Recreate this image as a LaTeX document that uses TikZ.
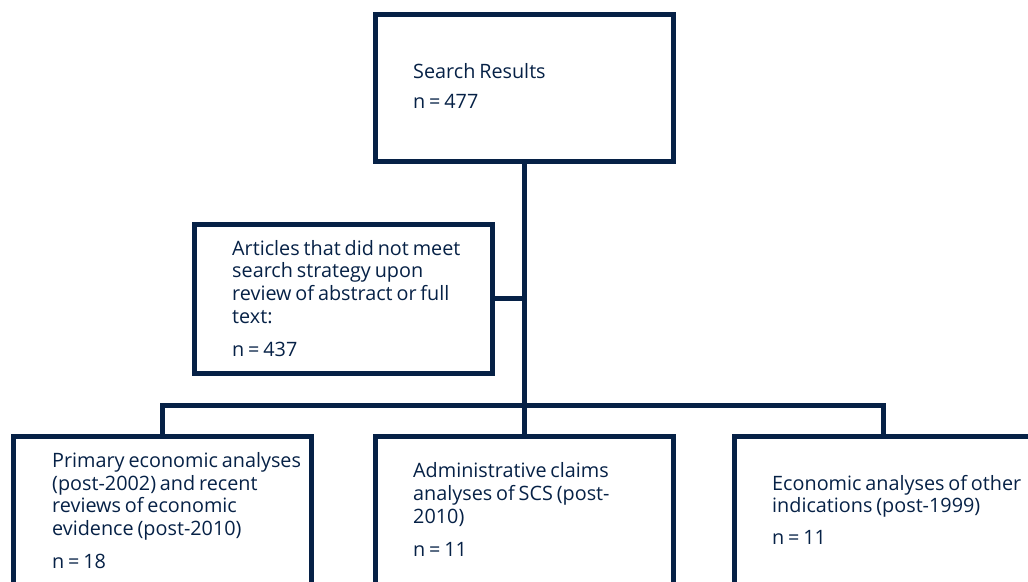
\documentclass[tikz,border=0pt]{standalone}
\usepackage{fontspec}
\setmainfont{Open Sans}[WordSpace=0.75]
\definecolor{navy}{RGB}{6,33,70}
\begin{document}
\begin{tikzpicture}[x=1pt,y=-1pt,
  box/.style={draw=navy,line width=5pt,minimum width=298pt,inner sep=0pt,outer sep=0pt},
  conn/.style={draw=navy,line width=5pt},
  txt/.style={anchor=base west,inner sep=0pt,text=navy,font=\fontsize{19.8}{22.7}\selectfont}]
\useasboundingbox (0,0) rectangle (1028,581);
\clip (0,0) rectangle (1028,581);
\node[box,minimum height=147.5pt] (search) at (524,87.75) {};
\node[box,minimum height=149pt] (art) at (343,298.5) {};
\node[box,minimum height=200pt,anchor=north] (b1) at (162,436.5) {};
\node[box,minimum height=200pt,anchor=north] (b2) at (524,436.5) {};
\node[box,minimum height=200pt,anchor=north] (b3) at (883,436.5) {};
\coordinate (j) at (524,405);
\draw[conn] (search.south) -- (b2.north);
\draw[conn] (art.east) -- (art.east -| search.south);
\draw[conn] (b1.north) |- (j) -| (b3.north);
% texts
\node[txt] (t1) at (413,78) {Search Results};
\node[txt] (t2) at (413,108) {n = 477};
\node[txt] (a1) at (232,255) {Articles that did not meet};
\node[txt] (a2) at (232,277.7) {search strategy upon};
\node[txt] (a3) at (232,300.3) {review of abstract or full};
\node[txt] (a4) at (232,323) {text:};
\node[txt] (a5) at (232,356) {n = 437};
\node[txt] (p1) at (52,467.3) {Primary economic analyses};
\node[txt] (p2) at (52,490) {(post-2002) and recent};
\node[txt] (p3) at (52,512.7) {reviews of economic};
\node[txt] (p4) at (52,535.7) {evidence (post-2010)};
\node[txt] (p5) at (52,568.3) {n = 18};
\node[txt] (c1) at (413,477) {Administrative claims};
\node[txt] (c2) at (413,500) {analyses of SCS (post-};
\node[txt] (c3) at (413,523) {2010)};
\node[txt] (c4) at (413,556.7) {n = 11};
\node[txt] (e1) at (772,490) {Economic analyses of other};
\node[txt] (e2) at (772,512.7) {indications (post-1999)};
\node[txt] (e3) at (772,544) {n = 11};
\end{tikzpicture}
\end{document}
